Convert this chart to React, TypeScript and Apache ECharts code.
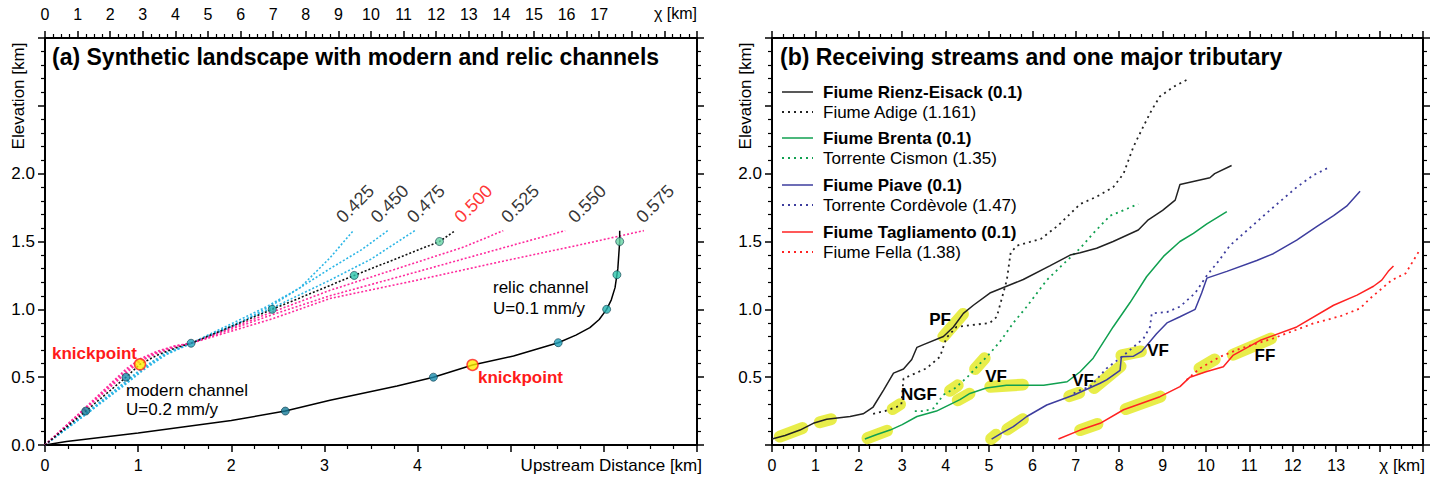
import React, { useEffect, useRef } from "react";
import * as echarts from "echarts";

// ---------- Panel (a): synthetic landscape ----------
const mnNames = ["0.425", "0.450", "0.475", "0.500", "0.525", "0.550", "0.575"];
const mn425 = [[0,0],[0.44,0.225],[0.87,0.45],[1.05,0.55],[1.3,0.665],[1.57,0.75],[2.02,0.9],[2.38,1.02],[2.74,1.16],[3.06,1.38],[3.31,1.58]];
const mn450 = [[0,0],[0.44,0.23],[0.87,0.46],[1.05,0.56],[1.3,0.672],[1.57,0.75],[2.0,0.87],[2.44,1.03],[3.06,1.3],[3.4,1.44],[3.68,1.58]];
const mn475 = [[0,0],[0.44,0.236],[0.87,0.47],[1.05,0.57],[1.3,0.68],[1.57,0.75],[2.44,1.01],[3.06,1.215],[3.5,1.37],[3.97,1.58]];
const mn500 = [[0,0],[0.437,0.25],[0.87,0.5],[1.02,0.595],[1.2,0.66],[1.4,0.715],[1.568,0.75],[2.44,1.0],[3.32,1.25],[4.235,1.5],[4.4,1.578]];
const mn525 = [[0,0],[0.44,0.268],[0.87,0.53],[1.02,0.615],[1.2,0.675],[1.4,0.723],[1.57,0.75],[2.44,0.98],[3.06,1.14],[3.96,1.34],[4.5,1.46],[4.92,1.58]];
const mn550 = [[0,0],[0.44,0.274],[0.87,0.545],[1.02,0.625],[1.2,0.682],[1.4,0.728],[1.57,0.75],[2.44,0.96],[3.06,1.1],[3.96,1.27],[4.85,1.44],[5.585,1.58]];
const mn575 = [[0,0],[0.44,0.28],[0.87,0.56],[1.02,0.635],[1.2,0.69],[1.4,0.732],[1.57,0.75],[2.44,0.93],[3.06,1.08],[3.96,1.21],[4.85,1.345],[5.74,1.475],[6.43,1.58]];
const relicChannel = [[0,0],[0.23,0.025],[1.0,0.088],[2.0,0.18],[2.58,0.25],[3.06,0.33],[3.78,0.435],[4.17,0.5],[4.59,0.59],[5.03,0.656],[5.51,0.754],[5.7,0.81],[5.85,0.865],[5.95,0.925],[6.03,1.0],[6.08,1.07],[6.12,1.16],[6.15,1.3],[6.17,1.5],[6.17,1.58]];
const modernNodes = [[0.437,0.25],[0.87,0.5],[1.568,0.75],[2.44,1.0],[3.32,1.25],[4.235,1.5]];
const relicNodes = [[2.58,0.25],[4.17,0.5],[5.51,0.754],[6.03,1.0],[6.14,1.255],[6.17,1.5]];
const knickpoints = [[1.02,0.595],[4.59,0.59]];
const fanLabelX = [3.16, 3.53, 3.92, 4.43, 4.93, 5.65, 6.38];
const fanLabelY = 1.66;
const distTicks = [0, 1, 2, 3, 4];
const chiTicksA = [0,1,2,3,4,5,6,7,8,9,10,11,12,13,14,15,16,17];

// ---------- Panel (b): receiving streams ----------
const rienzEisack = [[0,0.044],[0.3,0.07],[0.645,0.11],[0.95,0.16],[1.26,0.19],[1.8,0.21],[2.1,0.23],[2.33,0.28],[2.57,0.405],[2.8,0.53],[3.03,0.56],[3.22,0.63],[3.34,0.72],[3.49,0.74],[3.95,0.8],[4.18,0.87],[4.41,0.97],[4.64,1.03],[5.02,1.12],[5.79,1.22],[6.4,1.32],[6.87,1.4],[7.1,1.417],[7.48,1.45],[7.86,1.5],[8.44,1.585],[8.67,1.66],[9.0,1.73],[9.29,1.805],[9.4,1.92],[10.09,1.97],[10.2,2.0],[10.59,2.06]];
const adige = [[2.33,0.23],[2.6,0.25],[2.87,0.28],[2.98,0.3],[3.03,0.49],[3.56,0.565],[3.87,0.65],[4.02,0.79],[4.25,0.87],[5.02,0.9],[5.18,0.945],[5.41,1.215],[5.5,1.42],[5.65,1.47],[6.2,1.52],[6.6,1.62],[7.1,1.776],[7.48,1.83],[7.86,1.9],[8.1,2.0],[8.33,2.2],[8.56,2.35],[8.75,2.47],[8.94,2.57],[9.25,2.64],[9.55,2.69]];
const brenta = [[2.14,0.044],[2.4,0.075],[2.72,0.11],[3.0,0.15],[3.34,0.21],[3.79,0.25],[4.33,0.335],[4.56,0.38],[4.94,0.42],[5.4,0.44],[5.79,0.44],[6.26,0.44],[6.8,0.466],[7.1,0.54],[7.4,0.64],[7.86,0.87],[8.25,1.05],[8.63,1.24],[9.02,1.39],[9.4,1.5],[9.71,1.56],[10.02,1.63],[10.48,1.72]];
const cismon = [[3.29,0.25],[3.5,0.25],[3.72,0.27],[3.95,0.37],[4.22,0.42],[4.5,0.5],[4.79,0.6],[4.95,0.65],[5.25,0.76],[5.56,0.9],[5.87,1.02],[6.33,1.215],[6.7,1.33],[7.1,1.45],[7.4,1.56],[7.79,1.69],[8.02,1.72],[8.44,1.776]];
const piave = [[5.06,0.044],[5.3,0.09],[5.56,0.135],[5.87,0.21],[6.33,0.295],[6.97,0.37],[7.56,0.455],[7.71,0.48],[8.02,0.55],[8.05,0.65],[8.33,0.655],[8.52,0.69],[8.86,0.82],[9.1,0.9],[9.4,0.945],[9.75,1.0],[9.9,1.12],[10.02,1.23],[10.48,1.28],[11.17,1.36],[11.55,1.41],[12.09,1.51],[12.55,1.61],[12.94,1.69],[13.24,1.76],[13.55,1.87]];
const cordevole = [[6.95,0.38],[7.1,0.405],[7.33,0.43],[7.71,0.565],[8.1,0.66],[8.56,0.785],[8.71,0.87],[8.75,0.97],[9.1,0.98],[9.4,1.02],[9.75,1.12],[10.02,1.25],[10.3,1.36],[10.55,1.47],[10.94,1.58],[11.47,1.73],[12.09,1.9],[12.48,1.99],[12.86,2.05]];
const tagliamento = [[6.6,0.044],[7.1,0.11],[7.56,0.16],[8.1,0.26],[8.94,0.356],[9.4,0.43],[9.63,0.5],[10.0,0.54],[10.4,0.577],[10.62,0.66],[11.24,0.77],[12.09,0.87],[12.94,1.03],[13.48,1.105],[13.86,1.17],[14.05,1.215],[14.2,1.28],[14.32,1.32]];
const fella = [[9.55,0.48],[9.86,0.565],[10.32,0.65],[10.78,0.71],[11.55,0.786],[12.48,0.897],[13.1,0.95],[13.55,1.007],[13.78,1.08],[14.28,1.215],[14.6,1.265],[14.93,1.44]];
const knickzones = [
  [[0.18,0.062],[0.7,0.125]], [[1.1,0.168],[1.36,0.19]], [[3.95,0.8],[4.4,0.965]],
  [[2.78,0.265],[2.95,0.3]],
  [[2.2,0.05],[2.65,0.105]], [[4.28,0.33],[4.55,0.378]], [[5.03,0.43],[5.78,0.445]],
  [[4.1,0.4],[4.28,0.44]], [[4.68,0.56],[4.9,0.64]],
  [[5.05,0.045],[5.16,0.075]], [[5.42,0.115],[5.78,0.19]], [[6.85,0.36],[7.08,0.385]],
  [[7.42,0.42],[8.03,0.58]], [[8.05,0.66],[8.5,0.69]],
  [[7.1,0.11],[7.5,0.155]], [[8.15,0.265],[8.95,0.357]],
  [[9.85,0.565],[10.2,0.63]], [[10.62,0.665],[11.5,0.785]]
];
const chiTicksB = [0,1,2,3,4,5,6,7,8,9,10,11,12,13];
const elevTicksA = [0, 0.5, 1, 1.5, 2];
const elevTicksB = [0.5, 1, 1.5, 2];

const legendNames = ["Fiume Rienz-Eisack (0.1)","Fiume Adige (1.161)","Fiume Brenta (0.1)","Torrente Cismon (1.35)","Fiume Piave (0.1)","Torrente Cordèvole (1.47)","Fiume Tagliamento (0.1)","Fiume Fella (1.38)"];

const FONT = "'Liberation Sans', Arial, Helvetica, sans-serif";
const CYAN = "#2cb6e6";
const MAGENTA = "#ff2a9d";
const GREEN = "#10a050";
const BLUE = "#3d3d9e";
const RED = "#ff2222";
const BLACK = "#222222";
const nodeColors = ["#177c99", "#1a8cae", "#1ea2bd", "#22b2b0", "#2ac4aa", "#66d4a4"];

function near(v: number, arr: number[]) {
  return arr.some((a) => Math.abs(a - v) < 1e-6);
}

function axis(grid: number, position: string, min: number, max: number, interval: number, minorSplit: number, labels: number[] | null, fmt: (v: number) => string, fontSize: number, margin: number) {
  return {
    type: "value",
    gridIndex: grid,
    position,
    min,
    max,
    interval,
    axisLine: { show: true, onZero: false, lineStyle: { color: "#000", width: 2 } },
    axisTick: { show: true, length: 7, lineStyle: { color: "#000", width: 1.5 } },
    minorTick: { show: true, splitNumber: minorSplit, length: 4, lineStyle: { color: "#000", width: 1.2 } },
    splitLine: { show: false },
    minorSplitLine: { show: false },
    axisLabel: {
      show: labels !== null,
      margin,
      color: "#000",
      fontFamily: FONT,
      fontSize,
      showMinLabel: true,
      showMaxLabel: true,
      formatter: (v: number) => (labels && near(v, labels) ? fmt(v) : ""),
    },
  };
}

function dotted(name: string, data: number[][], color: string, xi: number, yi: number, width = 1.5, dash: number[] = [2, 2]) {
  return {
    name,
    type: "line",
    xAxisIndex: xi,
    yAxisIndex: yi,
    data,
    showSymbol: false,
    smooth: false,
    z: 3,
    lineStyle: { color, width, type: dash },
    silent: true,
  };
}

function solid(name: string, data: number[][], color: string, xi: number, yi: number, width = 1.5) {
  return {
    name,
    type: "line",
    xAxisIndex: xi,
    yAxisIndex: yi,
    data,
    showSymbol: false,
    z: 4,
    lineStyle: { color, width },
    silent: true,
  };
}

export default function App() {
  const ref = useRef<HTMLDivElement>(null);
  useEffect(() => {
    if (!ref.current) return;
    const chart = echarts.init(ref.current, null, { renderer: "svg" });
    const fans = [mn425, mn450, mn475, mn500, mn525, mn550, mn575];
    const fanColors = [CYAN, CYAN, CYAN, "#111", MAGENTA, MAGENTA, MAGENTA];
    const seriesA: any[] = fans.map((d, i) => ({ ...dotted("m/n " + mnNames[i], d, fanColors[i], 0, 0, 1.6, [2, 2]), z: i === 3 ? 4 : 3 }));
    seriesA.push(solid("relic", relicChannel, "#000", 0, 0, 1.5));
    seriesA.push({
      type: "scatter", xAxisIndex: 0, yAxisIndex: 0, z: 6, symbolSize: 8,
      data: modernNodes.map((p, i) => ({ value: p, itemStyle: { color: nodeColors[i] } })),
      itemStyle: { borderColor: "#0b3b4a", borderWidth: 0.8 },
    });
    seriesA.push({
      type: "scatter", xAxisIndex: 0, yAxisIndex: 0, z: 6, symbolSize: 8,
      data: relicNodes.map((p, i) => ({ value: p, itemStyle: { color: nodeColors[i] } })),
      itemStyle: { borderColor: "#0b3b4a", borderWidth: 0.8 },
    });
    seriesA.push({
      type: "scatter", xAxisIndex: 0, yAxisIndex: 0, z: 7, symbolSize: 11,
      data: knickpoints,
      itemStyle: { color: "#ffee00", borderColor: "#ff2020", borderWidth: 1.5 },
    });
    seriesA.push({
      type: "scatter", xAxisIndex: 0, yAxisIndex: 0, z: 7, symbolSize: 0,
      data: fanLabelX.map((x, i) => ({ value: [x, fanLabelY], name: mnNames[i], label: { color: i === 3 ? "#ff0000" : "#000" } })),
      label: {
        show: true, position: "inside", formatter: (p: any) => p.name, rotate: 45,
        align: "left", verticalAlign: "middle", fontFamily: FONT, fontSize: 18,
      },
    });

    const legendColors = [BLACK, BLACK, GREEN, GREEN, BLUE, BLUE, RED, RED];
    const streams = [rienzEisack, adige, brenta, cismon, piave, cordevole, tagliamento, fella];
    const seriesB: any[] = [];
    seriesB.push({
      type: "lines", coordinateSystem: "cartesian2d", xAxisIndex: 2, yAxisIndex: 2, z: 1,
      data: knickzones.map((c) => ({ coords: c })),
      lineStyle: { color: "#e4ea2a", width: 12, opacity: 0.85, cap: "round", curveness: 0 },
      silent: true,
    });
    streams.forEach((d, i) => {
      if (i % 2 === 0) seriesB.push(solid(legendNames[i], d, legendColors[i], 2, 2, 1.5));
      else seriesB.push(dotted(legendNames[i], d, legendColors[i], 2, 2, 1.8, [2, 4]));
    });

    const graphics: any[] = [];
    const txt = (text: string, x: number, y: number, size: number, opts: any = {}) => ({
      type: "text", x, y, z: 100, rotation: opts.rotation || 0,
      style: { text, fill: opts.fill || "#000", fontFamily: FONT, fontSize: size, fontWeight: opts.bold ? "bold" : "normal", align: opts.align || "left", verticalAlign: "middle" },
    });
    graphics.push(txt("(a) Synthetic landscape with modern and relic channels", 52, 57, 23, { bold: true }));
    graphics.push(txt("(b) Receiving streams and one major tributary", 780, 57, 23, { bold: true }));
    graphics.push(txt("Elevation [km]", 18, 96, 17, { rotation: Math.PI / 2, align: "center" }));
    graphics.push(txt("Elevation [km]", 745, 96, 17, { rotation: Math.PI / 2, align: "center" }));
    graphics.push(txt("χ [km]", 697, 13, 16, { align: "right" }));
    graphics.push(txt("Upstream Distance [km]", 702, 465, 17, { align: "right" }));
    graphics.push(txt("χ [km]", 1425, 465, 17, { align: "right" }));
    graphics.push(txt("knickpoint", 52, 353, 17, { bold: true, fill: "#ff1a1a" }));
    graphics.push(txt("knickpoint", 478, 377, 17, { bold: true, fill: "#ff1a1a" }));
    graphics.push(txt("modern channel", 126, 390, 17));
    graphics.push(txt("U=0.2 mm/y", 126, 409, 17));
    graphics.push(txt("relic channel", 493, 287, 17));
    graphics.push(txt("U=0.1 mm/y", 493, 308, 17));
    graphics.push(txt("PF", 940, 319, 17, { bold: true, align: "center" }));
    graphics.push(txt("NGF", 919, 394, 17, { bold: true, align: "center" }));
    graphics.push(txt("VF", 996, 376, 17, { bold: true, align: "center" }));
    graphics.push(txt("VF", 1083, 380, 17, { bold: true, align: "center" }));
    graphics.push(txt("VF", 1158, 350, 17, { bold: true, align: "center" }));
    graphics.push(txt("FF", 1265, 355, 17, { bold: true, align: "center" }));
    const legendY = [92, 112, 138, 158, 185, 205, 232, 252];
    legendNames.forEach((n, i) => {
      const isMain = i % 2 === 0;
      graphics.push({
        type: "line", z: 100,
        shape: { x1: 782, y1: legendY[i], x2: 813, y2: legendY[i] },
        style: { stroke: legendColors[i], lineWidth: isMain ? 1.5 : 1.8, lineDash: isMain ? null : [2, 4] },
      });
      graphics.push(txt(n, 823, legendY[i], 17, { bold: isMain }));
    });

    chart.setOption({
      animation: false,
      grid: [
        { left: 45, top: 38, width: 652, height: 407 },
        { left: 772, top: 38, width: 651, height: 407 },
      ],
      xAxis: [
        axis(0, "bottom", 0, 7, 1, 4, distTicks, (v) => String(v), 16, 12),
        axis(0, "top", 0, 20, 1, 4, chiTicksA, (v) => String(v), 16, 16),
        axis(1, "bottom", 0, 15, 1, 4, chiTicksB, (v) => String(v), 16, 12),
        axis(1, "top", 0, 15, 1, 4, null, (v) => String(v), 15, 16),
      ],
      yAxis: [
        axis(0, "left", 0, 3, 0.5, 5, elevTicksA, (v) => v.toFixed(1), 17, 10),
        axis(0, "right", 0, 3, 0.5, 5, null, (v) => v.toFixed(1), 17, 10),
        axis(1, "left", 0, 3, 0.5, 5, elevTicksB, (v) => v.toFixed(1), 17, 10),
        axis(1, "right", 0, 3, 0.5, 5, null, (v) => v.toFixed(1), 17, 10),
      ],
      series: [...seriesA, ...seriesB],
      graphic: graphics,
    });
    return () => chart.dispose();
  }, []);
  return <div ref={ref} style={{ position: "absolute", left: 0, top: 0, width: 1437, height: 480, background: "#fff" }} />;
}
